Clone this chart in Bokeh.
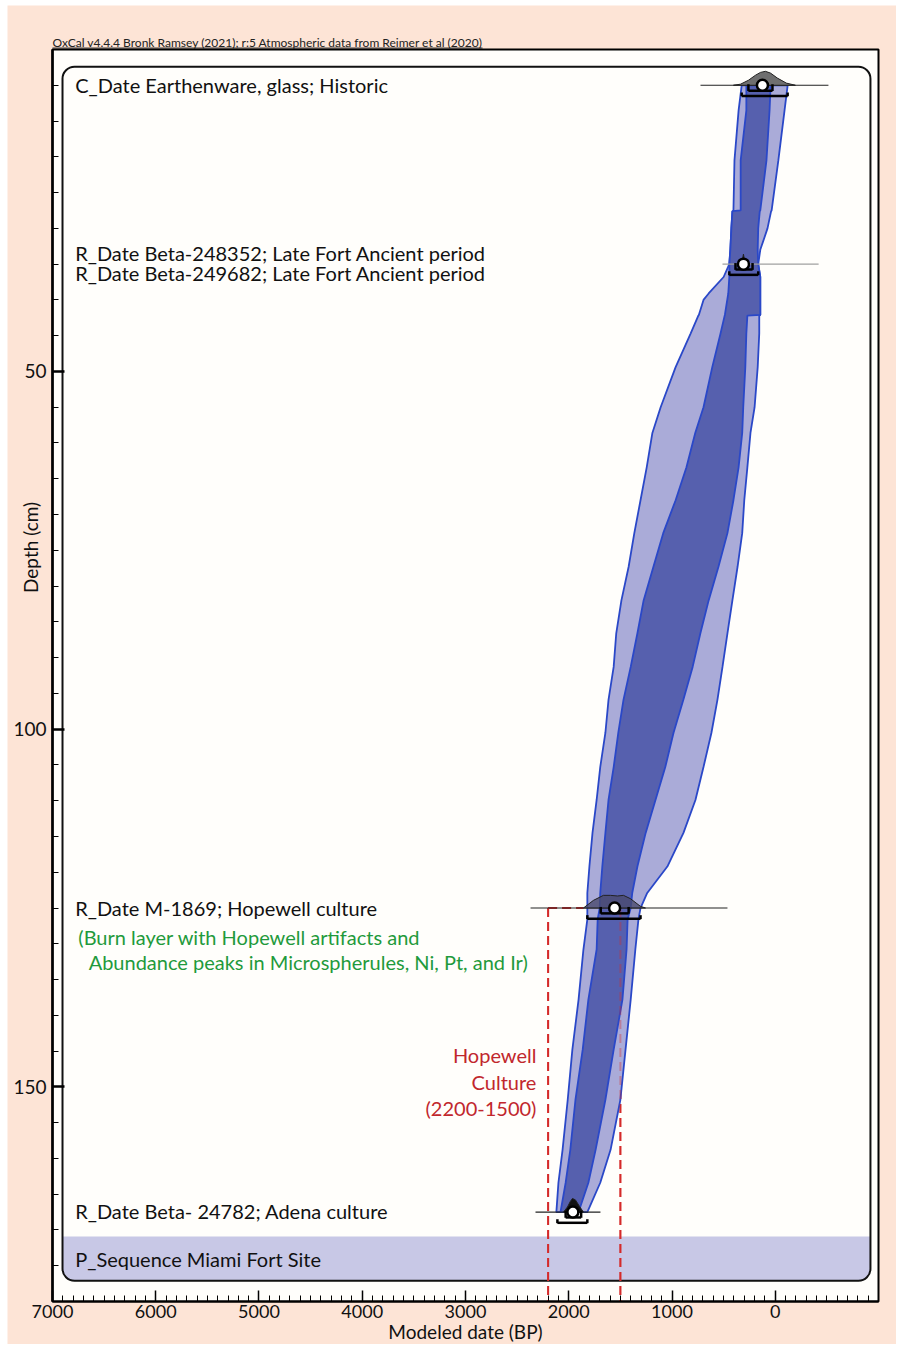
import numpy as np
from bokeh.plotting import figure
from bokeh.models import Range1d, FixedTicker, BoxAnnotation
from bokeh.embed import file_html
from bokeh.resources import INLINE
from bokeh.core.properties import value

# ---------------- data ----------------
# age-depth model envelope (BP)
depth   = [10.0, 13.5, 20.5, 27.5, 27.6, 30.0, 33.0, 35.0, 36.8, 39.1, 40.0, 42.1, 42.2, 44.7,
           49.4, 55.0, 58.6, 63.4, 68.0, 72.6, 77.3, 82.0, 86.6, 91.3, 95.9, 100.5, 105.3,
           109.9, 114.5, 119.2, 122.9, 125.0, 126.6, 130.8, 137.8, 144.8, 151.8, 158.8, 163.4, 167.5]
old95   = [325, 355, 395, 405, 415, 425, 435, 445, 500, 645, 695, 740, 745, 820,
           965, 1110, 1190, 1245, 1305, 1365, 1420, 1490, 1540, 1565, 1615, 1645, 1695,
           1730, 1770, 1800, 1820, 1820, 1820, 1858, 1905, 1965, 2010, 2060, 2100, 2120]
old68   = [280, 280, 335, 335, 415, 425, 435, 445, 445, 455, 465, 488, 490, 530,
           610, 695, 775, 860, 965, 1085, 1180, 1275, 1335, 1400, 1470, 1520, 1565,
           1615, 1645, 1675, 1695, 1700, 1720, 1730, 1810, 1865, 1935, 1985, 2030, 2080]
young68 = [45, 55, 85, 145, 150, 165, 170, 165, 145, 145, 145, 145, 270, 280,
           290, 310, 320, 355, 405, 463, 550, 645, 725, 800, 890, 985, 1065,
           1160, 1255, 1335, 1385, 1400, 1430, 1440, 1480, 1565, 1645, 1740, 1810, 1905]
young95 = [-120, -90, -30, 35, 40, 75, 145, 165, 145, 145, 145, 145, 155, 155,
           170, 200, 240, 270, 300, 320, 365, 415, 463, 511, 560, 618, 695,
           773, 889, 1045, 1240, 1305, 1325, 1355, 1400, 1450, 1500, 1595, 1695, 1820]

# dated samples
date_depth  = [10, 35, 125, 167.5]
date_mean   = [124, 308, 1556, 1960]
line_old    = [724, 511, 2370, 2322]
line_young  = [-515, -420, 463, 1693]
line_colors = ["#222222", "#a0a0a0", "#222222", "#222222"]
r68_old     = [260, 385, 1690, 2030]
r68_young   = [27, 220, 1420, 1880]
r95_old     = [325, 445, 1820, 2110]
r95_young   = [-120, 165, 1305, 1820]

# likelihood humps (BP, height in cm above the date line)
hump1_bp = [405, 337, 260, 192, 143, 95, 46, -21, -108, -195]
hump1_h  = [0, 0.15, 0.7, 1.4, 1.8, 1.95, 1.7, 1.0, 0.3, 0]
hump2_bp = [337, 318, 308, 298, 270]
hump2_h  = [0, 0.6, 1.4, 0.6, 0]
hump3_bp = [1858, 1761, 1664, 1596, 1528, 1470, 1402, 1306, 1257]
hump3_h  = [0, 1.07, 1.77, 1.77, 1.68, 1.77, 1.3, 0.24, 0]
hump4_bp = [2051, 2013, 1984, 1964, 1935, 1896, 1858]
hump4_h  = [0, 0.7, 1.5, 1.9, 1.7, 0.8, 0]

# text labels
label_texts  = ["C_Date Earthenware, glass; Historic",
                "R_Date Beta-248352; Late Fort Ancient period",
                "R_Date Beta-249682; Late Fort Ancient period",
                "R_Date M-1869; Hopewell culture",
                "R_Date Beta- 24782; Adena culture",
                "P_Sequence Miami Fort Site"]
label_depths = [9.9, 33.5, 36.3, 125, 167.4, 174.1]
green_texts  = ["(Burn layer with Hopewell artifacts and",
                "Abundance peaks in Microspherules, Ni, Pt, and Ir)"]
green_depths = [129.0, 132.5]
green_x      = [6750, 6650]
red_texts    = ["Hopewell", "Culture", "(2200-1500)"]
red_depths   = [145.6, 149.3, 152.9]
header_text  = "OxCal v4.4.4 Bronk Ramsey (2021); r:5 Atmospheric data from Reimer et al (2020)"
x_title, y_title = "Modeled date (BP)", "Depth (cm)"

hopewell_old, hopewell_young, hopewell_depth = 2200, 1500, 125
hopewell_hline_end = 1858

x_min, x_max = -1000, 7000      # plotted date range (BP)
d_min, d_max = 5, 180           # plotted depth range (cm)
x_major = [7000, 6000, 5000, 4000, 3000, 2000, 1000, 0]
y_major = [50, 100, 150]

PEACH = "#fde4d6"
FONT = "Lato"

# the frame covers the whole peach page; the plot box sits inside it
p = figure(x_range=Range1d(7435.8, -1174.3), y_range=Range1d(186.01, -1.15),
           frame_width=889, frame_height=1339,
           min_border_left=7, min_border_top=5, min_border_right=0, min_border_bottom=0,
           output_backend="svg", toolbar_location=None,
           background_fill_color=PEACH, border_fill_color="white")
p.grid.visible = False
p.outline_line_color = None

# plot box
plot_box = BoxAnnotation(left=x_max, right=x_min, top=d_min, bottom=d_max,
                         fill_color="#fffefb", fill_alpha=1, line_color="black",
                         line_alpha=1, line_width=2, level="underlay")
band = BoxAnnotation(left=6903, right=-922, top=170.9, bottom=177.1,
                     fill_color="#c8c8e6", fill_alpha=1, line_color=None,
                     border_radius=dict(top_left=0, top_right=0, bottom_right=12, bottom_left=12),
                     level="underlay")
box = BoxAnnotation(left=6903, right=-922, top=7.4, bottom=177.1,
                    fill_color=None, line_color="#111111", line_alpha=1, line_width=2,
                    border_radius=12, level="underlay")
p.add_layout(plot_box)
p.add_layout(band)
p.add_layout(box)

# axes (drawn at the plot box edges)
xa = p.xaxis[0]
xa.fixed_location = d_max
xa.bounds = (x_min, x_max)
xa.ticker = FixedTicker(ticks=x_major, minor_ticks=list(range(x_min, x_max + 1, 100)))
xa.major_tick_in, xa.major_tick_out = 11, 0
xa.minor_tick_in, xa.minor_tick_out = 6, 0
xa.axis_line_width = 2
xa.major_tick_line_width = 1.5
xa.major_label_text_font = FONT
xa.major_label_text_font_size = "18px"
xa.major_label_text_color = "#111111"
xa.major_label_standoff = 3

ya = p.yaxis[0]
ya.fixed_location = x_max
ya.bounds = (d_min, d_max)
ya.ticker = FixedTicker(ticks=y_major, minor_ticks=list(range(d_min, d_max + 1, 5)))
ya.major_tick_in, ya.major_tick_out = 12, 0
ya.minor_tick_in, ya.minor_tick_out = 6, 0
ya.axis_line_width = 2.5
ya.major_tick_line_width = 2.5
ya.major_label_text_font = FONT
ya.major_label_text_font_size = "19px"
ya.major_label_text_color = "#111111"
ya.major_label_standoff = 6

# red Hopewell lines (under the envelope)
red = "#d42a2a"
rx0 = [hopewell_old, hopewell_young, hopewell_old]
ry0 = [hopewell_depth, hopewell_depth, hopewell_depth]
rx1 = [hopewell_old, hopewell_young, hopewell_hline_end]
ry1 = [d_max, d_max, hopewell_depth]
p.segment(rx0, ry0, rx1, ry1, line_color=red, line_width=2, line_dash="9 5")

# envelope
light_x = old95 + young95[::-1]
dark_x = old68 + young68[::-1]
env_y = depth + depth[::-1]
p.patch(light_x, env_y, fill_color="#aaabd8", line_color="#2a48c8", line_width=1.8)
p.patch(dark_x, env_y, fill_color="#5660ae", line_color="#2a48c8", line_width=1.8)

# red line seen through envelope
p.segment(rx0, ry0, rx1, ry1, line_color=red, line_width=2, line_dash="9 5", line_alpha=0.35)

# date markers
p.segment(line_old, date_depth, line_young, date_depth, line_color=line_colors, line_width=1.2)
humps = [(hump1_bp, hump1_h, "#6f6f6f", 1.0), (hump2_bp, hump2_h, "#111111", 1.0),
         (hump3_bp, hump3_h, "#4a4a6e", 0.8), (hump4_bp, hump4_h, "#111111", 1.0)]
for (hb, hh, col, al), d in zip(humps, date_depth):
    p.patch(hb, [d - h for h in hh], fill_color=col, fill_alpha=al,
            line_color="#222222", line_width=1)

dd = np.array(date_depth, dtype=float)
b68 = dd + 0.75
b95 = dd + 1.5
p.segment(r68_old, b68, r68_young, b68, line_color="black", line_width=2.5)
p.segment(r68_old + r68_young, list(b68 - 0.9) * 2, r68_old + r68_young, list(b68 + 0.05) * 2,
          line_color="black", line_width=2.5)
p.segment(r95_old, b95, r95_young, b95, line_color="black", line_width=2.5)
p.segment(r95_old + r95_young, list(b95 - 0.5) * 2, r95_old + r95_young, list(b95 + 0.05) * 2,
          line_color="black", line_width=2.5)
p.scatter(date_mean, date_depth, size=11, fill_color="white", line_color="black", line_width=2.5)

# texts
p.text(x=[6780] * len(label_texts), y=label_depths, text=label_texts,
       text_font=value(FONT), text_font_size="20px", text_color="#111111",
       text_baseline="middle", text_align="left")
p.text(x=green_x, y=green_depths, text=green_texts,
       text_font=value(FONT), text_font_size="20px", text_color="#1f9a3c",
       text_baseline="middle", text_align="left")
p.text(x=[2313] * 3, y=red_depths, text=red_texts,
       text_font=value(FONT), text_font_size="20px", text_color="#c1272d",
       text_baseline="middle", text_align="right")

# header (underlined), axis titles
p.text(x=[x_max], y=[4.02], text=[header_text], text_font=value(FONT), text_font_size="12px",
       text_color="#222222", text_baseline="middle", text_align="left")
p.segment([x_max], [4.8], [2835], [4.8], line_color="#222222", line_width=1)
p.text(x=[7213], y=[74.6], text=[y_title], angle=np.pi / 2, text_font=value(FONT),
       text_font_size="19px", text_color="#111111", text_baseline="middle", text_align="center")
p.text(x=[(x_min + x_max) / 2], y=[184.2], text=[x_title], text_font=value(FONT),
       text_font_size="19px", text_color="#111111", text_baseline="middle", text_align="center")

open("out.html", "w").write(file_html(p, INLINE))
